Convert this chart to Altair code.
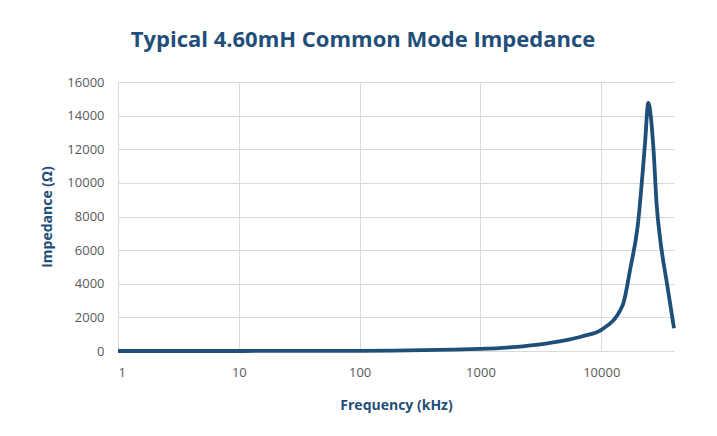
import altair as alt
import pandas as pd

freq_khz = [1, 10, 100, 1000, 2000, 3000, 5000, 7000, 10000, 15000, 17500, 20000, 23000, 24500, 27000, 28800, 30800, 35000, 40000]
impedance = [0.1, 1.3, 13, 126, 250, 380, 630, 880, 1260, 2700, 5000, 7400, 12300, 14750, 12100, 8600, 6600, 4000, 1350]

x_ticks = [1, 10, 100, 1000, 10000]
y_ticks = [0, 2000, 4000, 6000, 8000, 10000, 12000, 14000, 16000]

df = pd.DataFrame({"f": freq_khz, "z": impedance})

blue = "#1F4E79"

chart = alt.Chart(df).mark_line(color=blue, strokeWidth=3.8, interpolate="monotone").encode(
    x=alt.X("f:Q", scale=alt.Scale(type="log", domain=[1, 40000], nice=False),
            axis=alt.Axis(values=x_ticks, format="d", title="Frequency (kHz)",
                          grid=True, gridColor="#d9d9d9", domainColor="#d9d9d9",
                          ticks=False, labelPadding=15, titlePadding=19)),
    y=alt.Y("z:Q", scale=alt.Scale(domain=[0, 16000], nice=False),
            axis=alt.Axis(values=y_ticks, format="d", title="Impedance (Ω)",
                          grid=True, gridColor="#d9d9d9", domain=False,
                          ticks=False, labelPadding=14, titlePadding=12)),
).properties(
    width=556, height=269,
    title=alt.TitleParams("Typical 4.60mH Common Mode Impedance", fontSize=22,
                          font="Open Sans", fontWeight="bold", color=blue,
                          offset=24, dx=-33),
    autosize=alt.AutoSizeParams(type="none"),
    padding={"left": 110, "top": 74, "right": 35, "bottom": 77},
).configure_axis(
    labelFont="Open Sans", labelFontSize=13, labelColor="#595959",
    titleFont="Open Sans", titleFontSize=14, titleColor=blue, titleFontWeight="bold",
).configure_view(stroke=None)

chart.save("out.html", embed_options={"renderer": "svg", "actions": False})
